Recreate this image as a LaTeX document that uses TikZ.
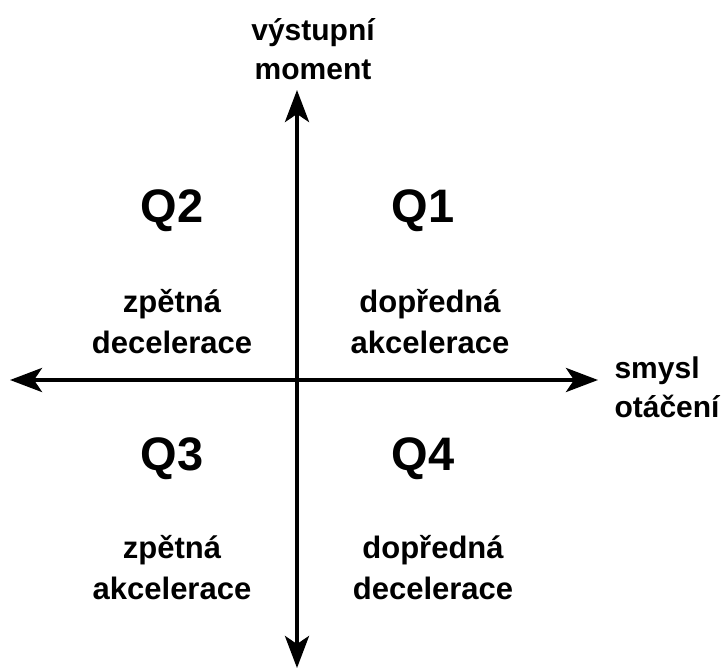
\documentclass[tikz,border=0pt]{standalone}
\usepackage{fontspec}
\setmainfont{Liberation Sans}
\usetikzlibrary{arrows.meta}
\begin{document}
\begin{tikzpicture}[x=1pt,y=-1pt,
  axis/.style={line width=4pt,-{Stealth[length=32pt,width=24pt,inset=8pt]}},
  qlabel/.style={font=\fontsize{47}{50}\selectfont\bfseries},
  desc/.style={font=\fontsize{31}{41}\selectfont\bfseries,align=center},
  axlabel/.style={font=\fontsize{30}{39}\selectfont\bfseries}]
\useasboundingbox (0,0) rectangle (728,671);
\coordinate (o) at (297,380);
\coordinate (top) at (297,90);
\coordinate (bot) at (297,668);
\coordinate (left) at (10,380);
\coordinate (right) at (598,380);
\draw[axis] (o) -- (top);
\draw[axis] (o) -- (bot);
\draw[axis] (o) -- (left);
\draw[axis] (o) -- (right);
\node[qlabel] (q1) at (423,211) {Q1};
\node[qlabel] (q2) at (172,211) {Q2};
\node[qlabel] (q3) at (172,459) {Q3};
\node[qlabel] (q4) at (423,459) {Q4};
\node[desc] (d2) at (172,322) {zpětná\\decelerace};
\node[desc] (d1) at (430,322) {dopředná\\akcelerace};
\node[desc] (d3) at (172,568) {zpětná\\akcelerace};
\node[desc] (d4) at (433,568) {dopředná\\decelerace};
\node[axlabel,align=center] (yl) at (313,49) {výstupní\\moment};
\node[axlabel,align=left,anchor=west] (xl) at (611,387) {smysl\\otáčení};
\end{tikzpicture}
\end{document}
